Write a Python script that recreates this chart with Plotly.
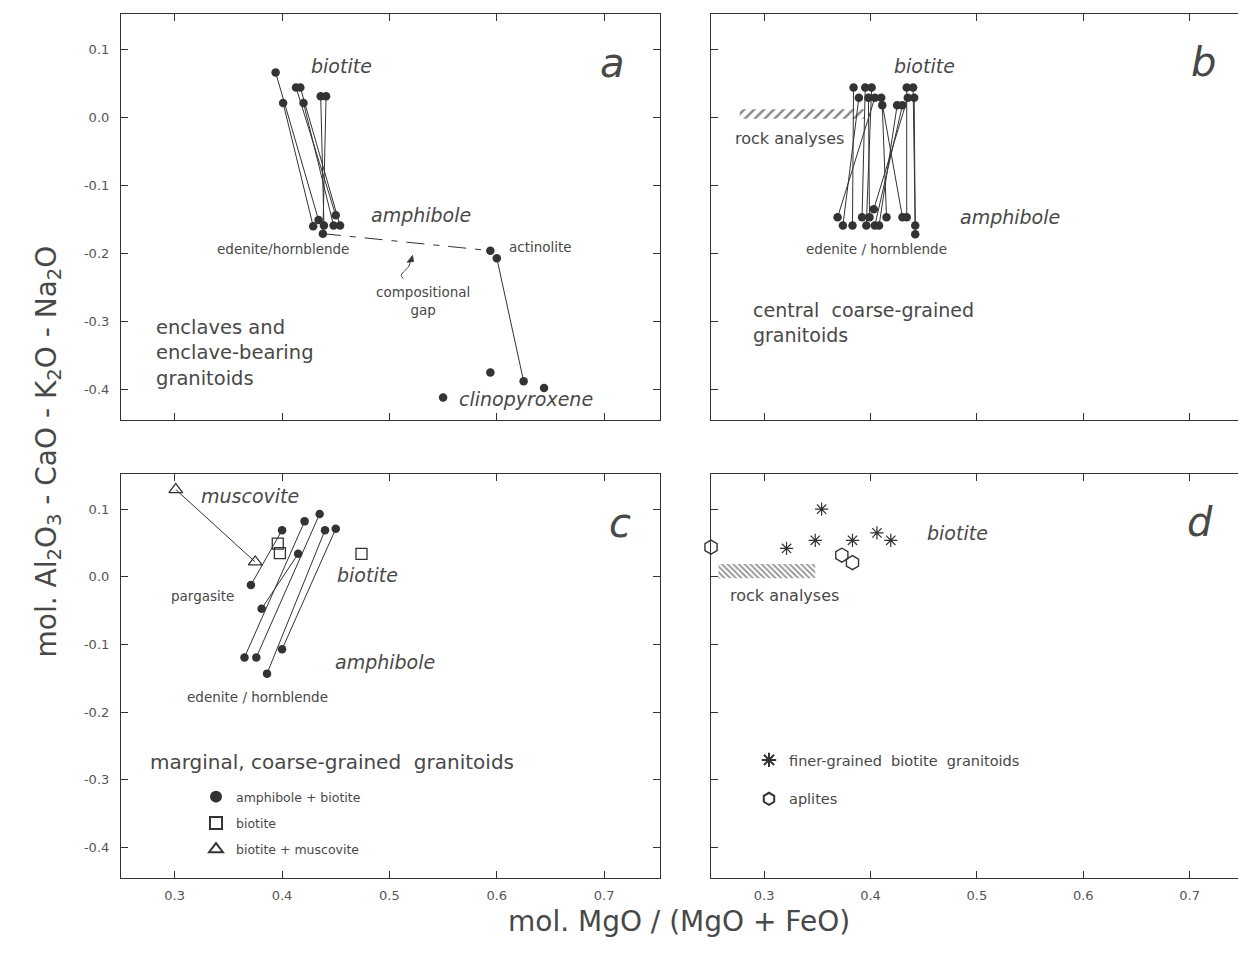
import plotly.graph_objects as go

# ---------------- data ----------------
x_ticks = [0.3, 0.4, 0.5, 0.6, 0.7]
x_ticktext = ["0.3", "0.4", "0.5", "0.6", "0.7"]
y_ticks = [0.1, 0.0, -0.1, -0.2, -0.3, -0.4]
y_ticktext = ["0.1", "0.0", "-0.1", "-0.2", "-0.3", "-0.4"]

# panel a: enclaves and enclave-bearing granitoids (biotite -> amphibole pairs)
a_bio_x = [0.394, 0.401, 0.413, 0.417, 0.420, 0.436, 0.441]
a_bio_y = [0.066, 0.021, 0.044, 0.044, 0.021, 0.031, 0.031]
a_amp_x = [0.434, 0.429, 0.450, 0.454, 0.448, 0.439, 0.438]
a_amp_y = [-0.151, -0.160, -0.144, -0.159, -0.159, -0.159, -0.171]
a_act_x = [0.594, 0.600]
a_act_y = [-0.196, -0.207]
a_cpx_x = [0.594, 0.625, 0.644, 0.550]
a_cpx_y = [-0.375, -0.388, -0.398, -0.412]

# panel b: central coarse-grained granitoids
b_amp_x = [0.369, 0.374, 0.383, 0.392, 0.396, 0.399, 0.403, 0.404, 0.408, 0.415, 0.430, 0.434, 0.442, 0.442]
b_amp_y = [-0.147, -0.159, -0.159, -0.147, -0.159, -0.147, -0.135, -0.159, -0.159, -0.147, -0.147, -0.147, -0.159, -0.172]
b_bio_x = [0.404, 0.389, 0.384, 0.395, 0.401, 0.398, 0.435, 0.430, 0.425, 0.411, 0.410, 0.434, 0.440, 0.441]
b_bio_y = [0.029, 0.029, 0.044, 0.044, 0.044, 0.029, 0.029, 0.018, 0.018, 0.018, 0.029, 0.044, 0.044, 0.029]
b_rock_x = [0.277, 0.394]
b_rock_y = [-0.002, 0.012]

# panel c: marginal, coarse-grained granitoids
c_amp_x = [0.371, 0.381, 0.365, 0.376, 0.386, 0.400]
c_amp_y = [-0.012, -0.047, -0.119, -0.119, -0.143, -0.107]
c_bio_x = [0.400, 0.415, 0.421, 0.435, 0.440, 0.450]
c_bio_y = [0.069, 0.034, 0.082, 0.093, 0.069, 0.071]
c_sq_x = [0.396, 0.398, 0.474]
c_sq_y = [0.049, 0.035, 0.034]
c_tri_x = [0.301, 0.375]
c_tri_y = [0.129, 0.022]

# panel d: finer-grained biotite granitoids and aplites
d_star_x = [0.354, 0.321, 0.348, 0.383, 0.406, 0.419]
d_star_y = [0.100, 0.042, 0.054, 0.054, 0.065, 0.054]
d_hex_x = [0.250, 0.373, 0.383]
d_hex_y = [0.044, 0.032, 0.021]
d_rock_x = [0.257, 0.348]
d_rock_y = [-0.002, 0.019]

# ---------------- style ----------------
OFF = 8                      # page body margin of the browser
W, H = 1246 - OFF, 963 - 2 * OFF
FONT = "DejaVu Sans"
INK = "#333333"
TXT = "#484848"
X_RANGE = [0.25, 0.752]
Y_RANGE = [-0.445, 0.152]


def segs(x1, y1, x2, y2):
    xs, ys = [], []
    for a, b, c, d in zip(x1, y1, x2, y2):
        xs += [a, c, None]
        ys += [b, d, None]
    return xs, ys


def px(p):
    return (p - OFF) / W


def py(p):
    return (H - (p - OFF)) / H


def ydom(top, bottom):
    return [py(bottom), py(top)]


fig = go.Figure()

dot = dict(color=INK, size=8.5, line=dict(width=0))

# ---- panel a ----
xs, ys = segs(a_bio_x, a_bio_y, a_amp_x, a_amp_y)
fig.add_trace(go.Scatter(x=xs, y=ys, mode="lines", line=dict(color=INK, width=1),
                         xaxis="x", yaxis="y", showlegend=False, hoverinfo="skip"))
fig.add_trace(go.Scatter(x=[a_amp_x[-1], a_act_x[0]], y=[a_amp_y[-1], a_act_y[0]], mode="lines",
                         line=dict(color=INK, width=1, dash="18px,9px,6px,9px"),
                         xaxis="x", yaxis="y", showlegend=False))
fig.add_trace(go.Scatter(x=[a_act_x[1], a_cpx_x[1]], y=[a_act_y[1], a_cpx_y[1]], mode="lines",
                         line=dict(color=INK, width=1), xaxis="x", yaxis="y", showlegend=False))
fig.add_trace(go.Scatter(x=a_bio_x + a_amp_x + a_act_x + a_cpx_x,
                         y=a_bio_y + a_amp_y + a_act_y + a_cpx_y,
                         mode="markers", marker=dot, xaxis="x", yaxis="y", showlegend=False))

# ---- panel b ----
fig.add_trace(go.Scatter(x=[b_rock_x[0], b_rock_x[1], b_rock_x[1], b_rock_x[0], b_rock_x[0]],
                         y=[b_rock_y[0], b_rock_y[0], b_rock_y[1], b_rock_y[1], b_rock_y[0]],
                         mode="lines", fill="toself", line=dict(width=0),
                         fillcolor="rgba(0,0,0,0)",
                         fillpattern=dict(shape="/", fgcolor="#111", bgcolor="rgba(0,0,0,0)", size=7, solidity=0.35),
                         xaxis="x2", yaxis="y2", showlegend=False, hoverinfo="skip"))
xs, ys = segs(b_bio_x, b_bio_y, b_amp_x, b_amp_y)
fig.add_trace(go.Scatter(x=xs, y=ys, mode="lines", line=dict(color=INK, width=1),
                         xaxis="x2", yaxis="y2", showlegend=False, hoverinfo="skip"))
fig.add_trace(go.Scatter(x=b_bio_x + b_amp_x, y=b_bio_y + b_amp_y, mode="markers",
                         marker=dot, xaxis="x2", yaxis="y2", showlegend=False))

# ---- panel c ----
xs, ys = segs(c_tri_x[:1], c_tri_y[:1], c_tri_x[1:], c_tri_y[1:])
fig.add_trace(go.Scatter(x=xs, y=ys, mode="lines", line=dict(color=INK, width=1),
                         xaxis="x3", yaxis="y3", showlegend=False))
xs, ys = segs(c_amp_x, c_amp_y, c_bio_x, c_bio_y)
fig.add_trace(go.Scatter(x=xs, y=ys, mode="lines", line=dict(color=INK, width=1),
                         xaxis="x3", yaxis="y3", showlegend=False))
fig.add_trace(go.Scatter(x=c_amp_x + c_bio_x, y=c_amp_y + c_bio_y, mode="markers",
                         marker=dot, xaxis="x3", yaxis="y3", name="amphibole + biotite",
                         legend="legend2", legendgroup="c1"))
fig.add_trace(go.Scatter(x=c_sq_x, y=c_sq_y, mode="markers",
                         marker=dict(symbol="square-open", size=11, color=INK, line=dict(width=1.3)),
                         xaxis="x3", yaxis="y3", name="biotite", legend="legend2", legendgroup="c2"))
fig.add_trace(go.Scatter(x=c_tri_x, y=c_tri_y, mode="markers", cliponaxis=False,
                         marker=dict(symbol="triangle-up-open", size=12, color=INK, line=dict(width=1.3)),
                         xaxis="x3", yaxis="y3", name="biotite + muscovite", legend="legend2", legendgroup="c3"))

# ---- panel d ----
fig.add_trace(go.Scatter(x=[d_rock_x[0], d_rock_x[1], d_rock_x[1], d_rock_x[0], d_rock_x[0]],
                         y=[d_rock_y[0], d_rock_y[0], d_rock_y[1], d_rock_y[1], d_rock_y[0]],
                         mode="lines", fill="toself", line=dict(width=0),
                         fillcolor="rgba(0,0,0,0)",
                         fillpattern=dict(shape="\\", fgcolor="#222", bgcolor="rgba(0,0,0,0)", size=4, solidity=0.45),
                         xaxis="x4", yaxis="y4", showlegend=False, hoverinfo="skip"))
fig.add_trace(go.Scatter(x=d_star_x, y=d_star_y, mode="markers",
                         marker=dict(symbol="asterisk-open", size=11, color=INK, line=dict(width=1.2, color=INK)),
                         xaxis="x4", yaxis="y4",
                         name="finer-grained&nbsp; biotite&nbsp; granitoids",
                         legend="legend3", legendgroup="d1"))
fig.add_trace(go.Scatter(x=d_hex_x, y=d_hex_y, mode="markers", cliponaxis=False,
                         marker=dict(symbol="hexagon-open", size=14, color=INK, line=dict(width=1.4)),
                         xaxis="x4", yaxis="y4", name="aplites", legend="legend3", legendgroup="d2"))

# ---------------- axes ----------------
TICKFONT = dict(family=FONT, size=13, color="#555")


def xax(domain, labels, anchor):
    return dict(domain=domain, range=X_RANGE, tickvals=x_ticks, ticktext=x_ticktext,
                showticklabels=labels, ticks="inside", ticklen=7, tickwidth=1, tickcolor=INK,
                showline=True, linecolor=INK, linewidth=1.2, mirror="ticks",
                showgrid=False, zeroline=False, anchor=anchor, ticklabelstandoff=5,
                tickfont=TICKFONT, fixedrange=True)


def yax(domain, labels, anchor):
    return dict(domain=domain, range=Y_RANGE, tickvals=y_ticks, ticktext=y_ticktext,
                showticklabels=labels, ticks="inside", ticklen=7, tickwidth=1, tickcolor=INK,
                showline=True, linecolor=INK, linewidth=1.2, mirror="ticks",
                showgrid=False, zeroline=False, anchor=anchor, ticklabelstandoff=8,
                tickfont=TICKFONT, fixedrange=True)


XL = [px(121), px(660)]
XR = [px(711), px(1245)]
YT = ydom(14, 420)
YB = ydom(474, 878)

fig.update_layout(
    width=W, height=H, margin=dict(l=0, r=0, t=0, b=0),
    paper_bgcolor="white", plot_bgcolor="white",
    font=dict(family=FONT, color=TXT),
    xaxis=xax(XL, False, "y"), yaxis=yax(YT, True, "x"),
    xaxis2=xax(XR, False, "y2"), yaxis2=yax(YT, False, "x2"),
    xaxis3=xax(XL, True, "y3"), yaxis3=yax(YB, True, "x3"),
    xaxis4=xax(XR, True, "y4"), yaxis4=yax(YB, False, "x4"),
    legend2=dict(x=px(196), y=py(782), xanchor="left", yanchor="top",
                 bgcolor="rgba(0,0,0,0)", traceorder="grouped", tracegroupgap=7,
                 font=dict(family=FONT, size=12.5, color=TXT), itemsizing="constant"),
    legend3=dict(x=px(749), y=py(744), xanchor="left", yanchor="top",
                 bgcolor="rgba(0,0,0,0)", traceorder="grouped", tracegroupgap=17,
                 font=dict(family=FONT, size=14.5, color=TXT), itemsizing="constant"),
    showlegend=True,
)

ann = []


def lab(text, x, y, ax, size=13, italic=False, xanchor="center", align="center"):
    t = f"<i>{text}</i>" if italic else text
    ann.append(dict(text=t, x=x, y=y, xref=f"x{ax}" if ax > 1 else "x", yref=f"y{ax}" if ax > 1 else "y",
                    showarrow=False, xanchor=xanchor, align=align,
                    font=dict(family=FONT, size=size, color=TXT)))


MIN = 19   # mineral labels (italic)
# panel a
lab("biotite", 0.455, 0.075, 1, MIN, True)
lab("a", 0.708, 0.080, 1, 40, True)
lab("amphibole", 0.529, -0.143, 1, MIN, True)
lab("edenite/hornblende", 0.401, -0.193, 1, 13.5)
lab("actinolite", 0.641, -0.190, 1, 13.5)
lab("compositional<br>gap", 0.531, -0.270, 1, 13.5)
lab("enclaves and<br>enclave-bearing<br>granitoids", 0.281, -0.347, 1, 19.5, xanchor="left", align="left")
lab("clinopyroxene", 0.627, -0.414, 1, MIN, True)
# panel b
lab("biotite", 0.451, 0.076, 2, MIN, True)
lab("b", 0.713, 0.081, 2, 40, True)
lab("rock analyses", 0.324, -0.031, 2, 16)
lab("amphibole", 0.531, -0.146, 2, MIN, True)
lab("edenite / hornblende", 0.406, -0.194, 2, 13.5)
lab("central&nbsp; coarse-grained<br>granitoids", 0.288, -0.301, 2, 19, xanchor="left", align="left")
# panel c
lab("muscovite", 0.370, 0.119, 3, MIN, True)
lab("c", 0.715, 0.080, 3, 40, True)
lab("biotite", 0.480, 0.003, 3, MIN, True)
lab("pargasite", 0.326, -0.029, 3, 13.5)
lab("amphibole", 0.496, -0.126, 3, MIN, True)
lab("edenite / hornblende", 0.377, -0.178, 3, 13.5)
lab("marginal, coarse-grained&nbsp; granitoids", 0.275, -0.274, 3, 20, xanchor="left", align="left")
# panel d
lab("biotite", 0.482, 0.065, 4, MIN, True)
lab("d", 0.710, 0.081, 4, 40, True)
lab("rock analyses", 0.319, -0.028, 4, 16)

# axis titles
ann.append(dict(text="mol. MgO / (MgO + FeO)", x=px(679), y=py(940), xref="paper", yref="paper",
                showarrow=False, font=dict(family=FONT, size=28, color=TXT)))
ann.append(dict(text="mol. Al<sub>2</sub>O<sub>3</sub> - CaO - K<sub>2</sub>O - Na<sub>2</sub>O",
                x=px(27), y=py(452), xref="paper", yref="paper", textangle=-90,
                showarrow=False, font=dict(family=FONT, size=28, color=TXT)))

fig.update_layout(
    annotations=ann,
    shapes=[
        # curved arrow pointing at the compositional gap
        dict(type="path", xref="x", yref="y",
             path="M 0.513,-0.237 C 0.506,-0.229 0.521,-0.224 0.519,-0.210",
             line=dict(color=INK, width=1)),
        dict(type="path", xref="x", yref="y",
             path="M 0.5215,-0.203 L 0.5165,-0.213 L 0.5225,-0.212 Z",
             fillcolor=INK, line=dict(color=INK, width=0.8)),
    ])

fig.write_html("out.html")
